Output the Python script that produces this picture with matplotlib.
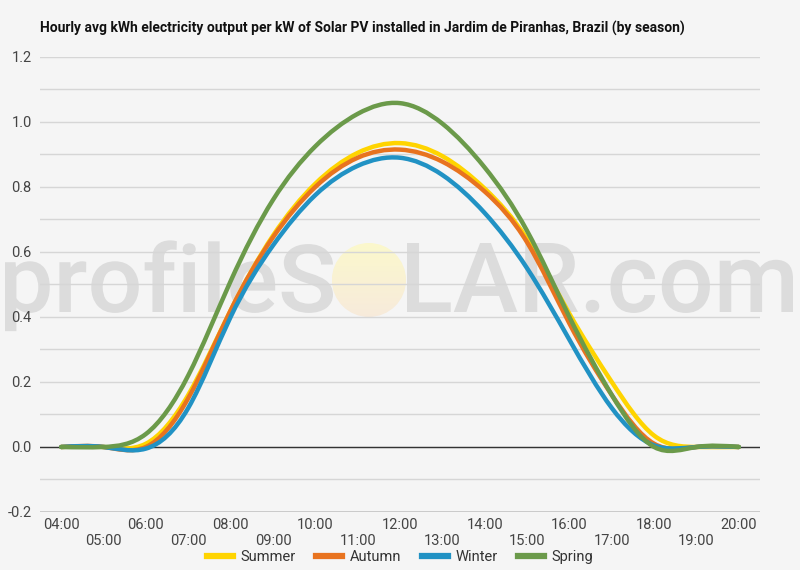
import matplotlib.pyplot as plt
import numpy as np
from matplotlib.path import Path
from matplotlib.patches import PathPatch, Ellipse
from matplotlib.lines import Line2D
from matplotlib.textpath import TextPath
from matplotlib.font_manager import FontProperties
from matplotlib.transforms import Affine2D

plt.rcParams['font.family'] = ['Roboto', 'DejaVu Sans']

hours = ['04:00', '05:00', '06:00', '07:00', '08:00', '09:00', '10:00', '11:00', '12:00',
         '13:00', '14:00', '15:00', '16:00', '17:00', '18:00', '19:00', '20:00']

summer = [0.0, 0.0, 0.01, 0.16, 0.42, 0.65, 0.81, 0.905, 0.935, 0.895, 0.795, 0.64, 0.41, 0.20, 0.035, 0.0, 0.0]
autumn = [0.0, 0.0, 0.0, 0.15, 0.42, 0.645, 0.80, 0.89, 0.915, 0.878, 0.786, 0.63, 0.38, 0.16, 0.01, 0.0, 0.0]
winter = [0.0, 0.0, -0.005, 0.12, 0.40, 0.62, 0.775, 0.865, 0.89, 0.837, 0.72, 0.55, 0.33, 0.12, 0.005, 0.0, 0.0]
spring = [0.0, 0.0, 0.04, 0.22, 0.51, 0.76, 0.925, 1.025, 1.058, 0.995, 0.86, 0.665, 0.40, 0.16, 0.0, 0.0, 0.0]

series = [('Summer', summer, '#FFD400'),
          ('Autumn', autumn, '#E8731F'),
          ('Winter', winter, '#2192C4'),
          ('Spring', spring, '#6B9A4A')]


def smooth_path(xs, ys):
    # natural cubic spline through the hourly points, drawn as bezier segments
    n = len(ys)
    A = np.zeros((n, n))
    b = np.zeros(n)
    A[0, 0] = A[-1, -1] = 1
    for i in range(1, n - 1):
        A[i, i - 1:i + 2] = [1, 4, 1]
        b[i] = 6 * (ys[i + 1] - 2 * ys[i] + ys[i - 1])
    M = np.linalg.solve(A, b)
    m = np.empty(n)
    m[:-1] = (ys[1:] - ys[:-1]) - (2 * M[:-1] + M[1:]) / 6
    m[-1] = (ys[-1] - ys[-2]) + (M[-2] + 2 * M[-1]) / 6
    verts = [(xs[0], ys[0])]
    codes = [Path.MOVETO]
    for i in range(n - 1):
        verts += [(xs[i] + 1 / 3, ys[i] + m[i] / 3),
                  (xs[i + 1] - 1 / 3, ys[i + 1] - m[i + 1] / 3),
                  (xs[i + 1], ys[i + 1])]
        codes += [Path.CURVE4] * 3
    return Path(verts, codes)


W, H = 800, 570
bg = '#f5f5f5'
fig = plt.figure(figsize=(W / 100, H / 100), dpi=100, facecolor=bg)
ax = fig.add_axes([0.05, 0.1018, 0.9, 0.7982])
ax.set_facecolor(bg)
ax.set_axisbelow(True)

x = np.arange(len(hours))
yt = np.arange(-0.2, 1.21, 0.2)
ax.set_yticks(yt)
ax.set_yticklabels([f'{v:.1f}' for v in yt])
ax.set_yticks(np.arange(-0.1, 1.2, 0.2), minor=True)
ax.yaxis.grid(True, which='both', color='#d6d6d6', linewidth=1)
ax.axhline(0, color='#333333', linewidth=1, zorder=1)
ax.axhline(-0.2, color='#c4c4c4', linewidth=1.2, zorder=1)

ax.set_xticks(x)
ax.set_xticklabels([h if i % 2 == 0 else '\n' + h for i, h in enumerate(hours)])
ax.tick_params(axis='both', which='both', length=0, labelsize=10.5, colors='#444444')
ax.tick_params(axis='x', pad=4)
ax.tick_params(axis='y', pad=6)
for s in ax.spines.values():
    s.set_visible(False)

# watermark: "profileS" + sun + "LAR.com", laid out in pixels
fp = FontProperties(family='Roboto', weight='medium')


def watermark(s, x0, x1, base, cap):
    tp = TextPath((0, 0), s, size=100, prop=fp)
    ext = tp.get_extents()
    sx = (x1 - x0) / ext.width
    sy = cap / 71.1
    tr = Affine2D().translate(-ext.x0, 0).scale(sx, sy).translate(x0, H - base)
    ax.add_artist(PathPatch(tp, transform=tr, facecolor='#dcdcdc', edgecolor='none',
                            zorder=0.2, clip_on=False))


watermark('profileS', 5, 333, 312, 67)
watermark('LAR.com', 407, 793, 312, 69)

sun_x, sun_y, r = (369 - 62) / 42.25, (447 - 280) / 325, 37
ext = [sun_x - r / 42.25, sun_x + r / 42.25, sun_y - r / 325, sun_y + r / 325]
grad = np.linspace(0, 1, 64)[:, None]
top = np.array([0.985, 0.973, 0.80])
bot = np.array([0.97, 0.92, 0.86])
img = top + (bot - top) * grad[..., None]
im = ax.imshow(np.repeat(img, 4, axis=1), extent=ext, aspect='auto', zorder=0.25,
               origin='upper', interpolation='bilinear')
clip = Ellipse((sun_x, sun_y), 2 * r / 42.25, 2 * r / 325, transform=ax.transData)
im.set_clip_path(clip)

handles = []
for name, vals, col in series:
    ax.add_patch(PathPatch(smooth_path(x, np.array(vals)), facecolor='none', edgecolor=col,
                           linewidth=3.2, capstyle='round', joinstyle='round', zorder=3))
    handles.append(Line2D([], [], color=col, linewidth=4.5, label=name))

ax.set_xlim(-0.5, len(hours) - 0.5)
ax.set_ylim(-0.2, 1.2)

fig.text(0.05, 0.95, 'Hourly avg kWh electricity output per kW of Solar PV installed in Jardim de Piranhas, Brazil (by season)',
         fontsize=10, fontweight='bold', color='#111111', va='center')

fig.legend(handles=handles, loc='center', bbox_to_anchor=(0.5, 0.022), ncol=4, frameon=False,
           fontsize=10.5, handlelength=1.8, columnspacing=1.4, handletextpad=0.5,
           labelcolor='#333333')

fig.savefig('out.png', dpi=100, facecolor=bg)
